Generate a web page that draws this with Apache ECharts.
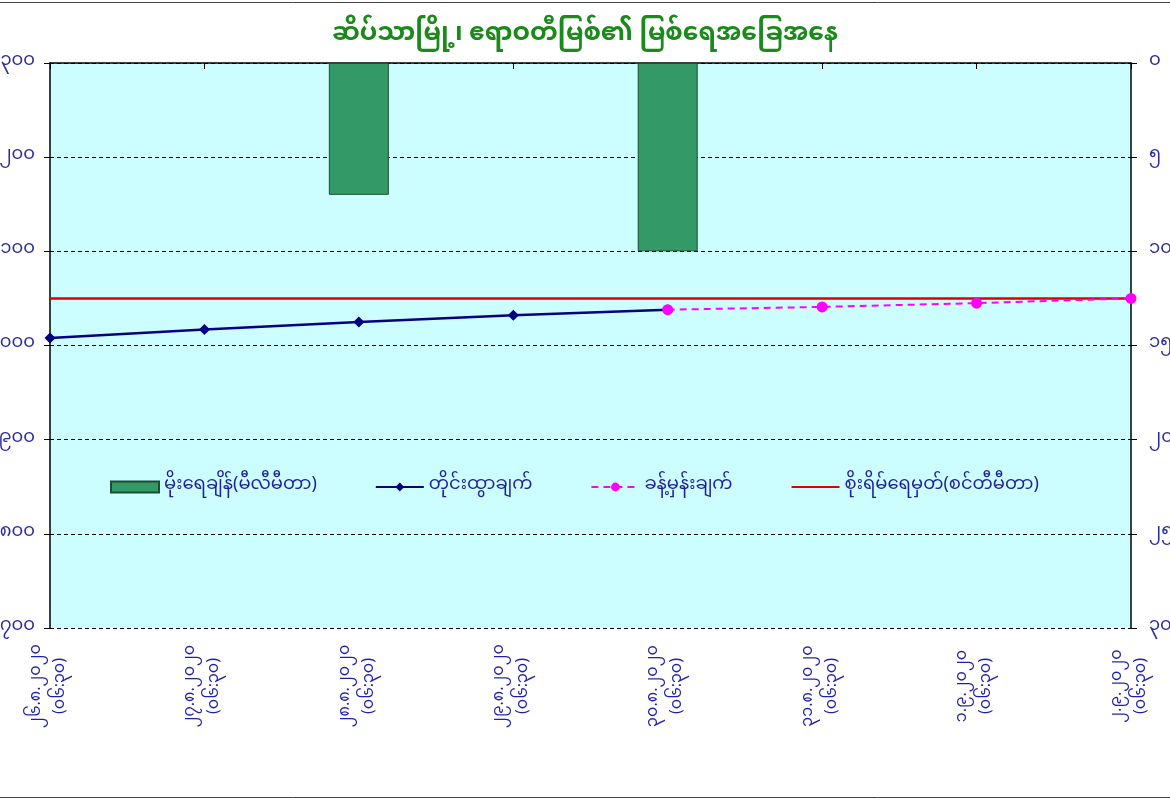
<!DOCTYPE html>
<html>
<head>
<meta charset="utf-8">
<title>မြစ်ရေအခြေအနေ</title>
<script src="https://cdn.jsdelivr.net/npm/echarts@6/dist/echarts.min.js"></script>
<style>
  html, body { margin: 0; padding: 0; background: #fff; }
  #chart { width: 1170px; height: 800px; }
</style>
</head>
<body>
<div id="chart"></div>
<script>
// dates of reading (Myanmar digits), time shown on second line
var dates = ['၂၆.၈.၂၀၂၀', '၂၇.၈.၂၀၂၀', '၂၈.၈.၂၀၂၀', '၂၉.၈.၂၀၂၀', '၃၀.၈.၂၀၂၀', '၃၁.၈.၂၀၂၀', '၁.၉.၂၀၂၀', '၂.၉.၂၀၂၀'];
var readTime = '(၀၆:၃၀)';
var rainfall = [null, null, 7, null, 10, null, null, null];          // mm, right axis
var observed = [1008, 1017, 1025, 1032, 1038, null, null, null];     // cm
var forecast = [null, null, null, null, 1038, 1041, 1045, 1050];     // cm
var danger = [1050, 1050, 1050, 1050, 1050, 1050, 1050, 1050];       // cm
var seriesNames = ['မိုးရေချိန်(မီလီမီတာ)', 'တိုင်းထွာချက်', 'ခန့်မှန်းချက်', 'စိုးရိမ်ရေမှတ်(စင်တီမီတာ)'];
var titleText = 'ဆိပ်သာမြို့၊ ဧရာဝတီမြစ်၏ မြစ်ရေအခြေအနေ';

var mmFont = '"Noto Sans Myanmar", "Padauk", "Myanmar Text", "Noto Sans", sans-serif';

function mmDigits(v) {
    return String(v).replace(/[0-9]/g, function (d) { return String.fromCharCode(0x1040 + Number(d)); });
}

var chart = echarts.init(document.getElementById('chart'), null, { renderer: 'canvas' });
chart.setOption({
    backgroundColor: '#ffffff',
    animation: false,
    textStyle: { fontFamily: mmFont },
    title: {
        text: titleText,
        left: 'center',
        top: 20,
        textStyle: { color: '#1b8a1b', fontSize: 25, fontWeight: 'bold', fontFamily: mmFont }
    },
    graphic: [
        { type: 'line', shape: { x1: 0, y1: 2.5, x2: 1170, y2: 2.5 }, style: { stroke: '#444', lineWidth: 1 } },
        { type: 'line', shape: { x1: 0, y1: 797.5, x2: 1170, y2: 797.5 }, style: { stroke: '#444', lineWidth: 1 } }
    ],
    legend: {
        left: 105,
        top: 473,
        itemGap: 58,
        itemWidth: 48,
        itemHeight: 11,
        textStyle: { color: '#1f1f99', fontSize: 18, fontFamily: mmFont },
        data: [
            { name: seriesNames[0], icon: 'rect' },
            { name: seriesNames[1] },
            { name: seriesNames[2] },
            { name: seriesNames[3], itemStyle: { opacity: 0 } }
        ]
    },
    grid: {
        left: 50,
        right: 39,
        top: 63,
        bottom: 172,
        outerBoundsMode: 'none',
        show: true,
        backgroundColor: '#ccfdff',
        borderWidth: 0
    },
    xAxis: {
        type: 'category',
        data: dates,
        boundaryGap: false,
        axisLine: { show: true, lineStyle: { color: '#000', width: 1.5 } },
        axisTick: { show: true, length: 6, inside: false, lineStyle: { color: '#000' } },
        axisLabel: {
            rotate: 90,
            margin: 58,
            align: 'center',
            verticalAlign: 'middle',
            lineHeight: 24,
            color: '#1f1faa',
            fontSize: 16,
            fontFamily: mmFont,
            formatter: function (v) { return v + '\n' + readTime; }
        },
        splitLine: { show: false }
    },
    yAxis: [{
        type: 'value',
        min: 700,
        max: 1300,
        interval: 100,
        position: 'left',
        axisLine: { show: true, lineStyle: { color: '#000', width: 1.5 } },
        axisTick: { show: true, length: 6, lineStyle: { color: '#000' } },
        axisLabel: {
            color: '#2b2ba0',
            fontSize: 18,
            margin: 15,
            fontFamily: mmFont,
            formatter: function (v) { return mmDigits(v); }
        },
        splitLine: { show: true, lineStyle: { color: '#000', type: [4, 3], width: 1 } }
    }, {
        type: 'value',
        min: 0,
        max: 30,
        interval: 5,
        inverse: true,
        position: 'right',
        axisLine: { show: true, lineStyle: { color: '#000', width: 1.5 } },
        axisTick: { show: true, length: 6, lineStyle: { color: '#000' } },
        axisLabel: {
            color: '#2b2ba0',
            fontSize: 18,
            margin: 18,
            fontFamily: mmFont,
            formatter: function (v) { return mmDigits(v); }
        },
        splitLine: { show: false }
    }],
    series: [{
        name: seriesNames[0],
        type: 'bar',
        yAxisIndex: 1,
        barWidth: 60,
        data: rainfall,
        itemStyle: { color: '#339966', borderColor: '#1d4d33', borderWidth: 1 },
        z: 2
    }, {
        name: seriesNames[1],
        type: 'line',
        yAxisIndex: 0,
        data: observed,
        symbol: 'diamond',
        symbolSize: 11,
        lineStyle: { color: '#000080', width: 2.5 },
        itemStyle: { color: '#000080' },
        z: 4
    }, {
        name: seriesNames[2],
        type: 'line',
        yAxisIndex: 0,
        data: forecast,
        symbol: 'circle',
        symbolSize: 11,
        lineStyle: { color: '#ff00ff', width: 2, type: [7, 5] },
        itemStyle: { color: '#ff00ff' },
        z: 5
    }, {
        name: seriesNames[3],
        type: 'line',
        yAxisIndex: 0,
        data: danger,
        symbol: 'none',
        showSymbol: false,
        lineStyle: { color: '#e00000', width: 2.5 },
        itemStyle: { color: '#e00000' },
        z: 3
    }]
});
</script>
</body>
</html>
